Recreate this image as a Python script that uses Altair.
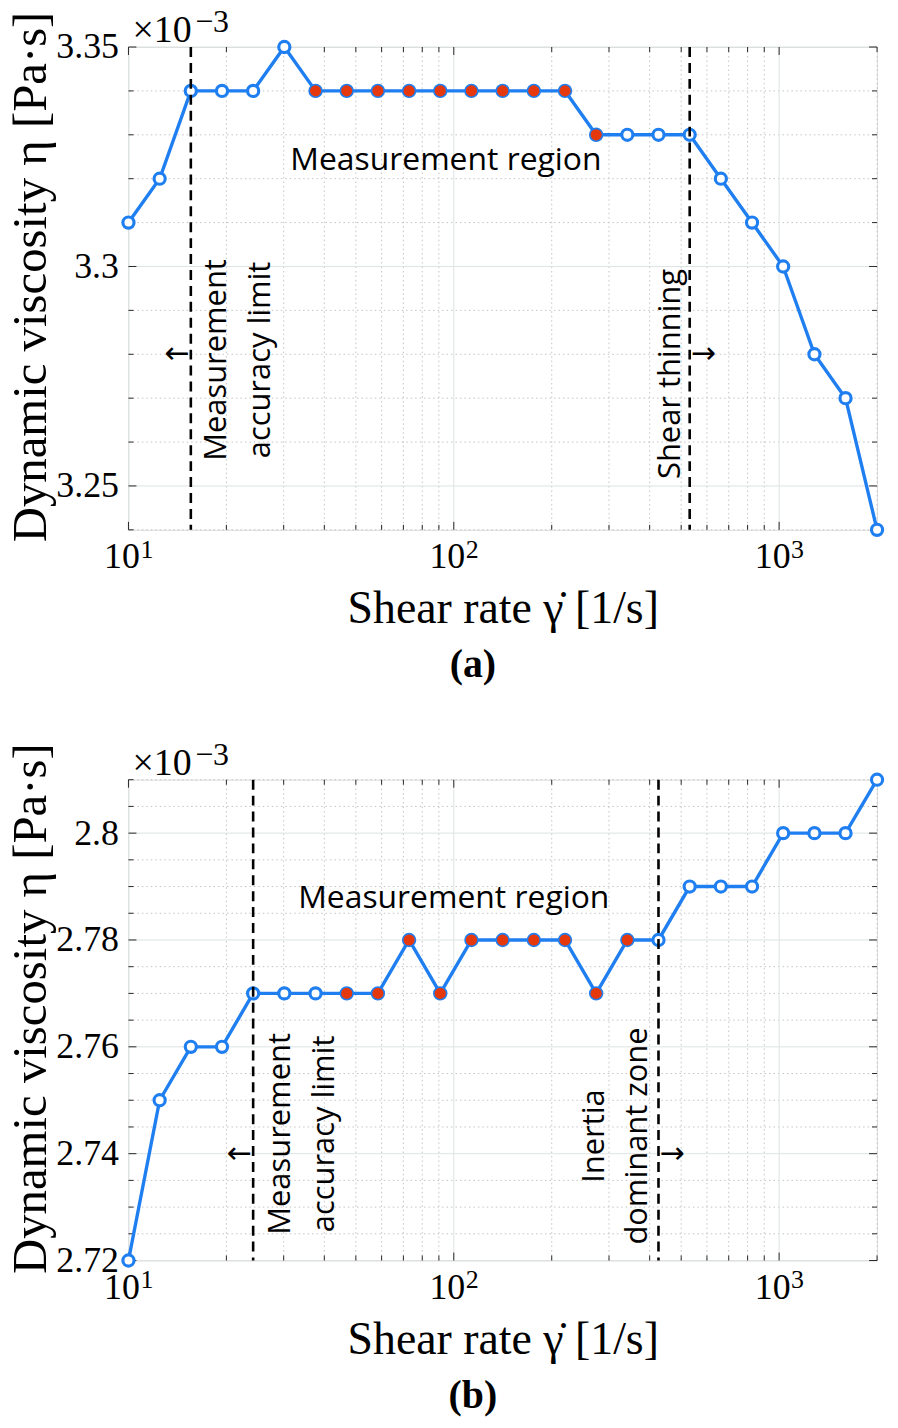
import altair as alt
import pandas as pd

SERIF = "Liberation Serif"
SANS = "Open Sans"
BLUE = "#1F7FF0"
RED = "#E5380D"

# ---- data ----
shear_rate = [10.0, 12.47, 15.55, 19.39, 24.17, 30.14, 37.59, 46.87, 58.44, 72.87,
              90.86, 113.3, 141.3, 176.2, 219.7, 273.9, 341.5, 425.8, 531.0, 662.1,
              825.6, 1029.0, 1284.0, 1600.0, 2000.0]

visc_a = [3.31, 3.32, 3.34, 3.34, 3.34, 3.35, 3.34, 3.34, 3.34, 3.34,
          3.34, 3.34, 3.34, 3.34, 3.34, 3.33, 3.33, 3.33, 3.33, 3.32,
          3.31, 3.30, 3.28, 3.27, 3.24]
measured_a = [0, 0, 0, 0, 0, 0, 1, 1, 1, 1, 1, 1, 1, 1, 1, 1, 0, 0, 0, 0, 0, 0, 0, 0, 0]
limits_a = [15.55, 531.0]

visc_b = [2.72, 2.75, 2.76, 2.76, 2.77, 2.77, 2.77, 2.77, 2.77, 2.78,
          2.77, 2.78, 2.78, 2.78, 2.78, 2.77, 2.78, 2.78, 2.79, 2.79,
          2.79, 2.80, 2.80, 2.80, 2.81]
measured_b = [0, 0, 0, 0, 0, 0, 0, 1, 1, 1, 1, 1, 1, 1, 1, 1, 1, 0, 0, 0, 0, 0, 0, 0, 0]
limits_b = [24.17, 425.8]

x_major = [10, 100, 1000]
x_major_exp = ["1", "2", "3"]
x_minor = [20, 30, 40, 50, 60, 70, 80, 90, 200, 300, 400, 500, 600, 700, 800, 900, 2000]

ydom_a = [3.24, 3.35]
y_major_a = [3.25, 3.30, 3.35]
y_minor_a = [3.24, 3.26, 3.27, 3.28, 3.29, 3.31, 3.32, 3.33, 3.34]

ydom_b = [2.72, 2.81]
y_major_b = [2.72, 2.74, 2.76, 2.78, 2.80]
y_minor_b = [2.725, 2.73, 2.735, 2.745, 2.75, 2.755, 2.765, 2.77, 2.775,
             2.785, 2.79, 2.795, 2.805, 2.81]

W = 752


def panel(visc, measured, limits, ydom, y_major, y_minor, region_pos, left_text,
          left_pos, right_text, right_pos, arrow_y, H, sub):
    df = pd.DataFrame({"rate": shear_rate, "visc": visc, "measured": measured})
    xs = alt.Scale(type="log", domain=[10, 2000], nice=False)
    ys = alt.Scale(domain=ydom, nice=False, zero=False)

    xaxis = alt.Axis(values=x_major, grid=False, ticks=False, domain=False,
                     labelExpr="'10'", labelFlush=False, labelOffset=-7,
                     labelFont=SERIF, labelFontSize=36, labelColor="black", labelPadding=10,
                     title="Shear rate γ̇ [1/s]", titleFont=SERIF, titleFontSize=46,
                     titleFontWeight="normal", titleColor="black", titlePadding=12)
    yaxis = alt.Axis(values=y_major, grid=False, ticks=False, domain=False, format=".2~f",
                     labelFont=SERIF, labelFontSize=36, labelColor="black", labelPadding=10,
                     title="Dynamic viscosity η [Pa·s]", titleFont=SERIF, titleFontSize=49,
                     titleFontWeight="normal", titleColor="black", titlePadding=0,
                     titleY=H / 2 - 12)

    def X(field=None, datum=None):
        if datum is not None:
            return alt.X(datum=datum, type="quantitative", scale=xs, axis=xaxis)
        return alt.X(field, type="quantitative", scale=xs, axis=xaxis)

    def Y(field=None, datum=None):
        if datum is not None:
            return alt.Y(datum=datum, type="quantitative", scale=ys, axis=yaxis)
        return alt.Y(field, type="quantitative", scale=ys, axis=yaxis)

    xg_minor = pd.DataFrame({"v": x_minor})
    xg_major = pd.DataFrame({"v": x_major, "e": x_major_exp})
    yg_minor = pd.DataFrame({"v": y_minor})
    yg_major = pd.DataFrame({"v": y_major})

    layers = []
    base = alt.Chart(df)
    line = base.mark_line(color=BLUE, strokeWidth=3.4).encode(x=X("rate"), y=Y("visc"))

    # minor grid (dotted)
    layers.append(alt.Chart(xg_minor).mark_rule(color="#c4c4c4", strokeWidth=1, strokeDash=[1.5, 3]).encode(
        x=X("v"), y=alt.value(0), y2=alt.value(H)))
    layers.append(alt.Chart(yg_minor).mark_rule(color="#c4c4c4", strokeWidth=1, strokeDash=[1.5, 3]).encode(
        y=Y("v"), x=alt.value(0), x2=alt.value(W)))
    # major grid (solid)
    layers.append(alt.Chart(xg_major).mark_rule(color="#dde3e3", strokeWidth=1).encode(
        x=X("v"), y=alt.value(0), y2=alt.value(H)))
    layers.append(alt.Chart(yg_major).mark_rule(color="#dde3e3", strokeWidth=1).encode(
        y=Y("v"), x=alt.value(0), x2=alt.value(W)))
    # inward ticks
    for d, ln in ((yg_major, 8), (yg_minor, 5)):
        layers.append(alt.Chart(d).mark_rule(color="#262626", strokeWidth=1).encode(
            y=Y("v"), x=alt.value(0), x2=alt.value(ln)))
        layers.append(alt.Chart(d).mark_rule(color="#262626", strokeWidth=1).encode(
            y=Y("v"), x=alt.value(W - ln), x2=alt.value(W)))
    for d, ln in ((xg_major, 8), (xg_minor, 5)):
        layers.append(alt.Chart(d).mark_rule(color="#262626", strokeWidth=1).encode(
            x=X("v"), y=alt.value(0), y2=alt.value(ln)))
        layers.append(alt.Chart(d).mark_rule(color="#262626", strokeWidth=1).encode(
            x=X("v"), y=alt.value(H - ln), y2=alt.value(H)))
    # exponent of the x tick labels
    layers.append(alt.Chart(xg_major).mark_text(font=SERIF, fontSize=26, color="black",
                                                align="left", baseline="alphabetic", dx=12).encode(
        x=X("v"), y=alt.value(H + 28), text="e:N"))

    layers.append(line)
    layers.append(base.transform_filter("datum.measured == 0").mark_point(
        shape="circle", filled=True, fill="white", stroke=BLUE, strokeWidth=3.2, size=125, opacity=1).encode(
        x=X("rate"), y=Y("visc")))
    layers.append(base.transform_filter("datum.measured == 1").mark_point(
        shape="circle", filled=True, fill=RED, stroke=BLUE, strokeWidth=1.6, size=165, opacity=1).encode(
        x=X("rate"), y=Y("visc")))

    # dashed limit lines
    layers.append(alt.Chart(pd.DataFrame({"v": limits})).mark_rule(
        color="black", strokeWidth=2.6, strokeDash=[10, 6]).encode(
        x=X("v"), y=alt.value(0), y2=alt.value(H)))

    # annotations
    one = pd.DataFrame({"k": [0]})
    layers.append(alt.Chart(one).mark_text(text="Measurement region", font=SANS, fontSize=32,
                                           color="black", align="center", baseline="middle").encode(
        x=X(datum=region_pos[0]), y=Y(datum=region_pos[1])))
    for txt, pos in ((left_text, left_pos), (right_text, right_pos)):
        layers.append(alt.Chart(one).mark_text(text=txt, font=SANS, fontSize=31, lineBreak="\n",
                                               lineHeight=44, angle=270, color="black",
                                               align="center", baseline="middle").encode(
            x=X(datum=pos[0]), y=Y(datum=pos[1])))
    layers.append(alt.Chart(one).mark_text(text="←", font="DejaVu Sans", fontSize=30, color="black",
                                           align="right", baseline="middle", dx=-1).encode(
        x=X(datum=limits[0]), y=Y(datum=arrow_y)))
    layers.append(alt.Chart(one).mark_text(text="→", font="DejaVu Sans", fontSize=30, color="black",
                                           align="left", baseline="middle", dx=1).encode(
        x=X(datum=limits[1]), y=Y(datum=arrow_y)))
    # exponent label
    layers.append(alt.Chart(one).mark_text(text="×10", font=SERIF, fontSize=38, color="black",
                                           align="left", baseline="alphabetic").encode(
        x=alt.value(4), y=alt.value(-5)))
    layers.append(alt.Chart(one).mark_text(text="−3", font=SERIF, fontSize=32, color="black",
                                           align="left", baseline="alphabetic").encode(
        x=alt.value(67), y=alt.value(-15)))

    return alt.layer(*layers).properties(
        width=W, height=H,
        title=alt.TitleParams(text=sub, orient="bottom", font=SERIF, fontSize=40,
                              fontWeight="bold", color="black", offset=14, dx=-30))


top = panel(visc_a, measured_a, limits_a, ydom_a, y_major_a, y_minor_a,
            (94.6, 3.3243), "Measurement\naccuracy limit", (18.74, 3.2787),
            "Shear thinning", (467.0, 3.2755), 3.28, 485, "(a)")
bottom = panel(visc_b, measured_b, limits_b, ydom_b, y_major_b, y_minor_b,
               (100.0, 2.7879), "Measurement\naccuracy limit", (29.5, 2.7437),
               "Inertia\ndominant zone", (271.0, 2.7433), 2.74, 483, "(b)")

chart = alt.vconcat(top, bottom, spacing=52).properties(
    padding={"left": -2, "top": -6, "right": 0, "bottom": 0}
).configure_view(stroke="#262626", strokeWidth=1.2).configure(background="white")

chart.save("out.html", embed_options={"renderer": "svg", "actions": False})
